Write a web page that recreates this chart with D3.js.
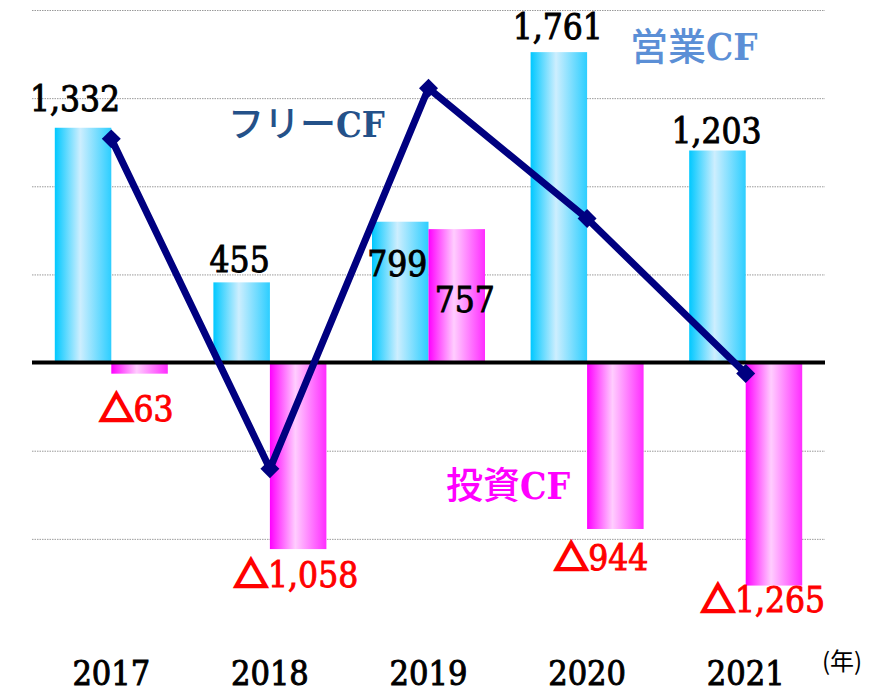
<!DOCTYPE html>
<html>
<head>
<meta charset="utf-8">
<script src="https://cdn.jsdelivr.net/npm/d3@7"></script>
<style>
  html, body { margin: 0; padding: 0; background: #fff; }
  svg { display: block; }
</style>
</head>
<body>
<svg id="chart"></svg>
<script>
// data (億円)
var years = ["2017", "2018", "2019", "2020", "2021"];
var operatingCF = [1332, 455, 799, 1761, 1203];
var investingCF = [-63, -1058, 757, -944, -1265];
var freeCF = [1269, -603, 1556, 817, -62];
var gridTicks = [-1000, -500, 500, 1000, 1500, 2000];

var width = 874, height = 693;
var svg = d3.select("#chart").attr("width", width).attr("height", height);

var x0 = d3.scaleBand().domain(years).range([32, 825]).paddingInner(0.2875).paddingOuter(0.14375);
var x1 = d3.scaleBand().domain(["op", "inv"]).range([0, x0.bandwidth()]);
var y = d3.scaleLinear().domain([-1500, 2000]).range([627, 10]);

var serif = "'DejaVu Serif Condensed', 'DejaVu Serif', serif";
var sans = "'Noto Sans CJK JP', 'Noto Sans', sans-serif";

// gradients
var defs = svg.append("defs");
function grad(id, edge, mid, edge2) {
  var g = defs.append("linearGradient").attr("id", id).attr("x1", "0%").attr("x2", "100%").attr("y1", "0%").attr("y2", "0%");
  g.append("stop").attr("offset", "0%").attr("stop-color", edge);
  g.append("stop").attr("offset", "45%").attr("stop-color", mid);
  g.append("stop").attr("offset", "100%").attr("stop-color", edge2);
}
grad("gOp", "#00c8ff", "#cdeefe", "#2cceff");
grad("gInv", "#ff00ff", "#ffcdfe", "#ff2cff");

var shadow = defs.append("filter").attr("id", "shd").attr("x", "-5%").attr("y", "-200%").attr("width", "110%").attr("height", "500%");
shadow.append("feGaussianBlur").attr("in", "SourceAlpha").attr("stdDeviation", 1.5);
shadow.append("feOffset").attr("dy", 2).attr("result", "o");
var mrg = shadow.append("feMerge");
mrg.append("feMergeNode").attr("in", "o");
mrg.append("feMergeNode").attr("in", "SourceGraphic");

// gridlines
svg.append("g").selectAll("line").data(gridTicks).enter().append("line")
  .attr("x1", 32).attr("x2", 825)
  .attr("y1", d => y(d) + 0.5).attr("y2", d => y(d) + 0.5)
  .attr("stroke", "#9a9a9a").attr("stroke-width", 1).attr("stroke-dasharray", "1.5,1");

// bars
var groups = svg.append("g").selectAll("g").data(years).enter().append("g")
  .attr("transform", d => "translate(" + x0(d) + ",0)");

groups.append("rect")
  .attr("x", x1("op")).attr("width", x1.bandwidth())
  .attr("y", (d, i) => y(Math.max(0, operatingCF[i])))
  .attr("height", (d, i) => Math.abs(y(operatingCF[i]) - y(0)))
  .attr("fill", "url(#gOp)");

groups.append("rect")
  .attr("x", x1("inv")).attr("width", x1.bandwidth())
  .attr("y", (d, i) => y(Math.max(0, investingCF[i])))
  .attr("height", (d, i) => Math.abs(y(investingCF[i]) - y(0)))
  .attr("fill", "url(#gInv)");

// zero line
svg.append("line").attr("x1", 32).attr("x2", 825).attr("y1", y(0)).attr("y2", y(0))
  .attr("stroke", "#000").attr("stroke-width", 4);

// bottom decorative axis
svg.append("line").attr("x1", 10).attr("x2", 840).attr("y1", 629.5).attr("y2", 629.5)
  .attr("stroke", "#4f81bd").attr("stroke-width", 5).attr("filter", "url(#shd)");

// free CF line
var cx = d => x0(d) + x0.bandwidth() / 2;
var line = d3.line().x((d, i) => cx(years[i])).y(d => y(d));
svg.append("path").datum(freeCF).attr("d", line)
  .attr("fill", "none").attr("stroke", "#000080").attr("stroke-width", 7).attr("stroke-linejoin", "miter");
svg.append("g").selectAll("path").data(freeCF).enter().append("path")
  .attr("d", d3.symbol().type(d3.symbolSquare).size(180))
  .attr("transform", (d, i) => "translate(" + cx(years[i]) + "," + y(d) + ") rotate(45)")
  .attr("fill", "#000080");

// value labels
var fmt = d3.format(",");
var opOffsets = [[-8, -17], [-2, -10], [-3, 54], [-1, -13], [-1, -7]];
var invOffsets = [[-3, 47], [-2, 38], [8, 83], [-14, 41], [-11, 26]];

svg.append("g").selectAll("text").data(operatingCF).enter().append("text")
  .attr("x", (d, i) => x0(years[i]) + x1("op") + x1.bandwidth() / 2 + opOffsets[i][0])
  .attr("y", (d, i) => y(d) + opOffsets[i][1])
  .attr("text-anchor", "middle")
  .attr("font-family", serif).attr("font-size", 35)
  .attr("fill", "#000").attr("stroke", "#000").attr("stroke-width", 0.9)
  .text(d => fmt(d));

var invText = svg.append("g").selectAll("text").data(investingCF).enter().append("text")
  .attr("x", (d, i) => x0(years[i]) + x1("inv") + x1.bandwidth() / 2 + invOffsets[i][0])
  .attr("y", (d, i) => y(d) + invOffsets[i][1])
  .attr("text-anchor", "middle")
  .attr("font-family", serif).attr("font-size", 35)
  .attr("fill", d => d < 0 ? "#ff0000" : "#000")
  .attr("stroke", d => d < 0 ? "#ff0000" : "#000").attr("stroke-width", 0.9);
invText.filter(d => d < 0).append("tspan")
  .attr("font-family", sans).attr("font-weight", 900).attr("font-size", 34)
  .attr("stroke-width", 2.6)
  .text("△");
invText.append("tspan").attr("stroke-width", 0.9).text(d => fmt(Math.abs(d)));

// series labels
function seriesLabel(xp, yp, jp, color, size) {
  var t = svg.append("text").attr("x", xp).attr("y", yp).attr("fill", color).attr("font-size", size);
  t.append("tspan").attr("font-family", sans).attr("font-weight", 500).text(jp);
  t.append("tspan").attr("font-family", serif).attr("font-weight", "bold").text("CF");
}
seriesLabel(228, 137, "フリー", "#245189", 36);
seriesLabel(630, 60, "営業", "#5b8fd6", 38);
seriesLabel(446, 499, "投資", "#ff00ff", 37);

// year axis labels
svg.append("g").selectAll("text").data(years).enter().append("text")
  .attr("x", d => cx(d)).attr("y", 685)
  .attr("text-anchor", "middle")
  .attr("font-family", serif).attr("font-size", 34)
  .attr("fill", "#000").attr("stroke", "#000").attr("stroke-width", 0.9)
  .text(d => d);

svg.append("text").attr("x", 822).attr("y", 670)
  .attr("font-family", sans).attr("font-size", 24).attr("fill", "#000")
  .text("(年)");
</script>
</body>
</html>
